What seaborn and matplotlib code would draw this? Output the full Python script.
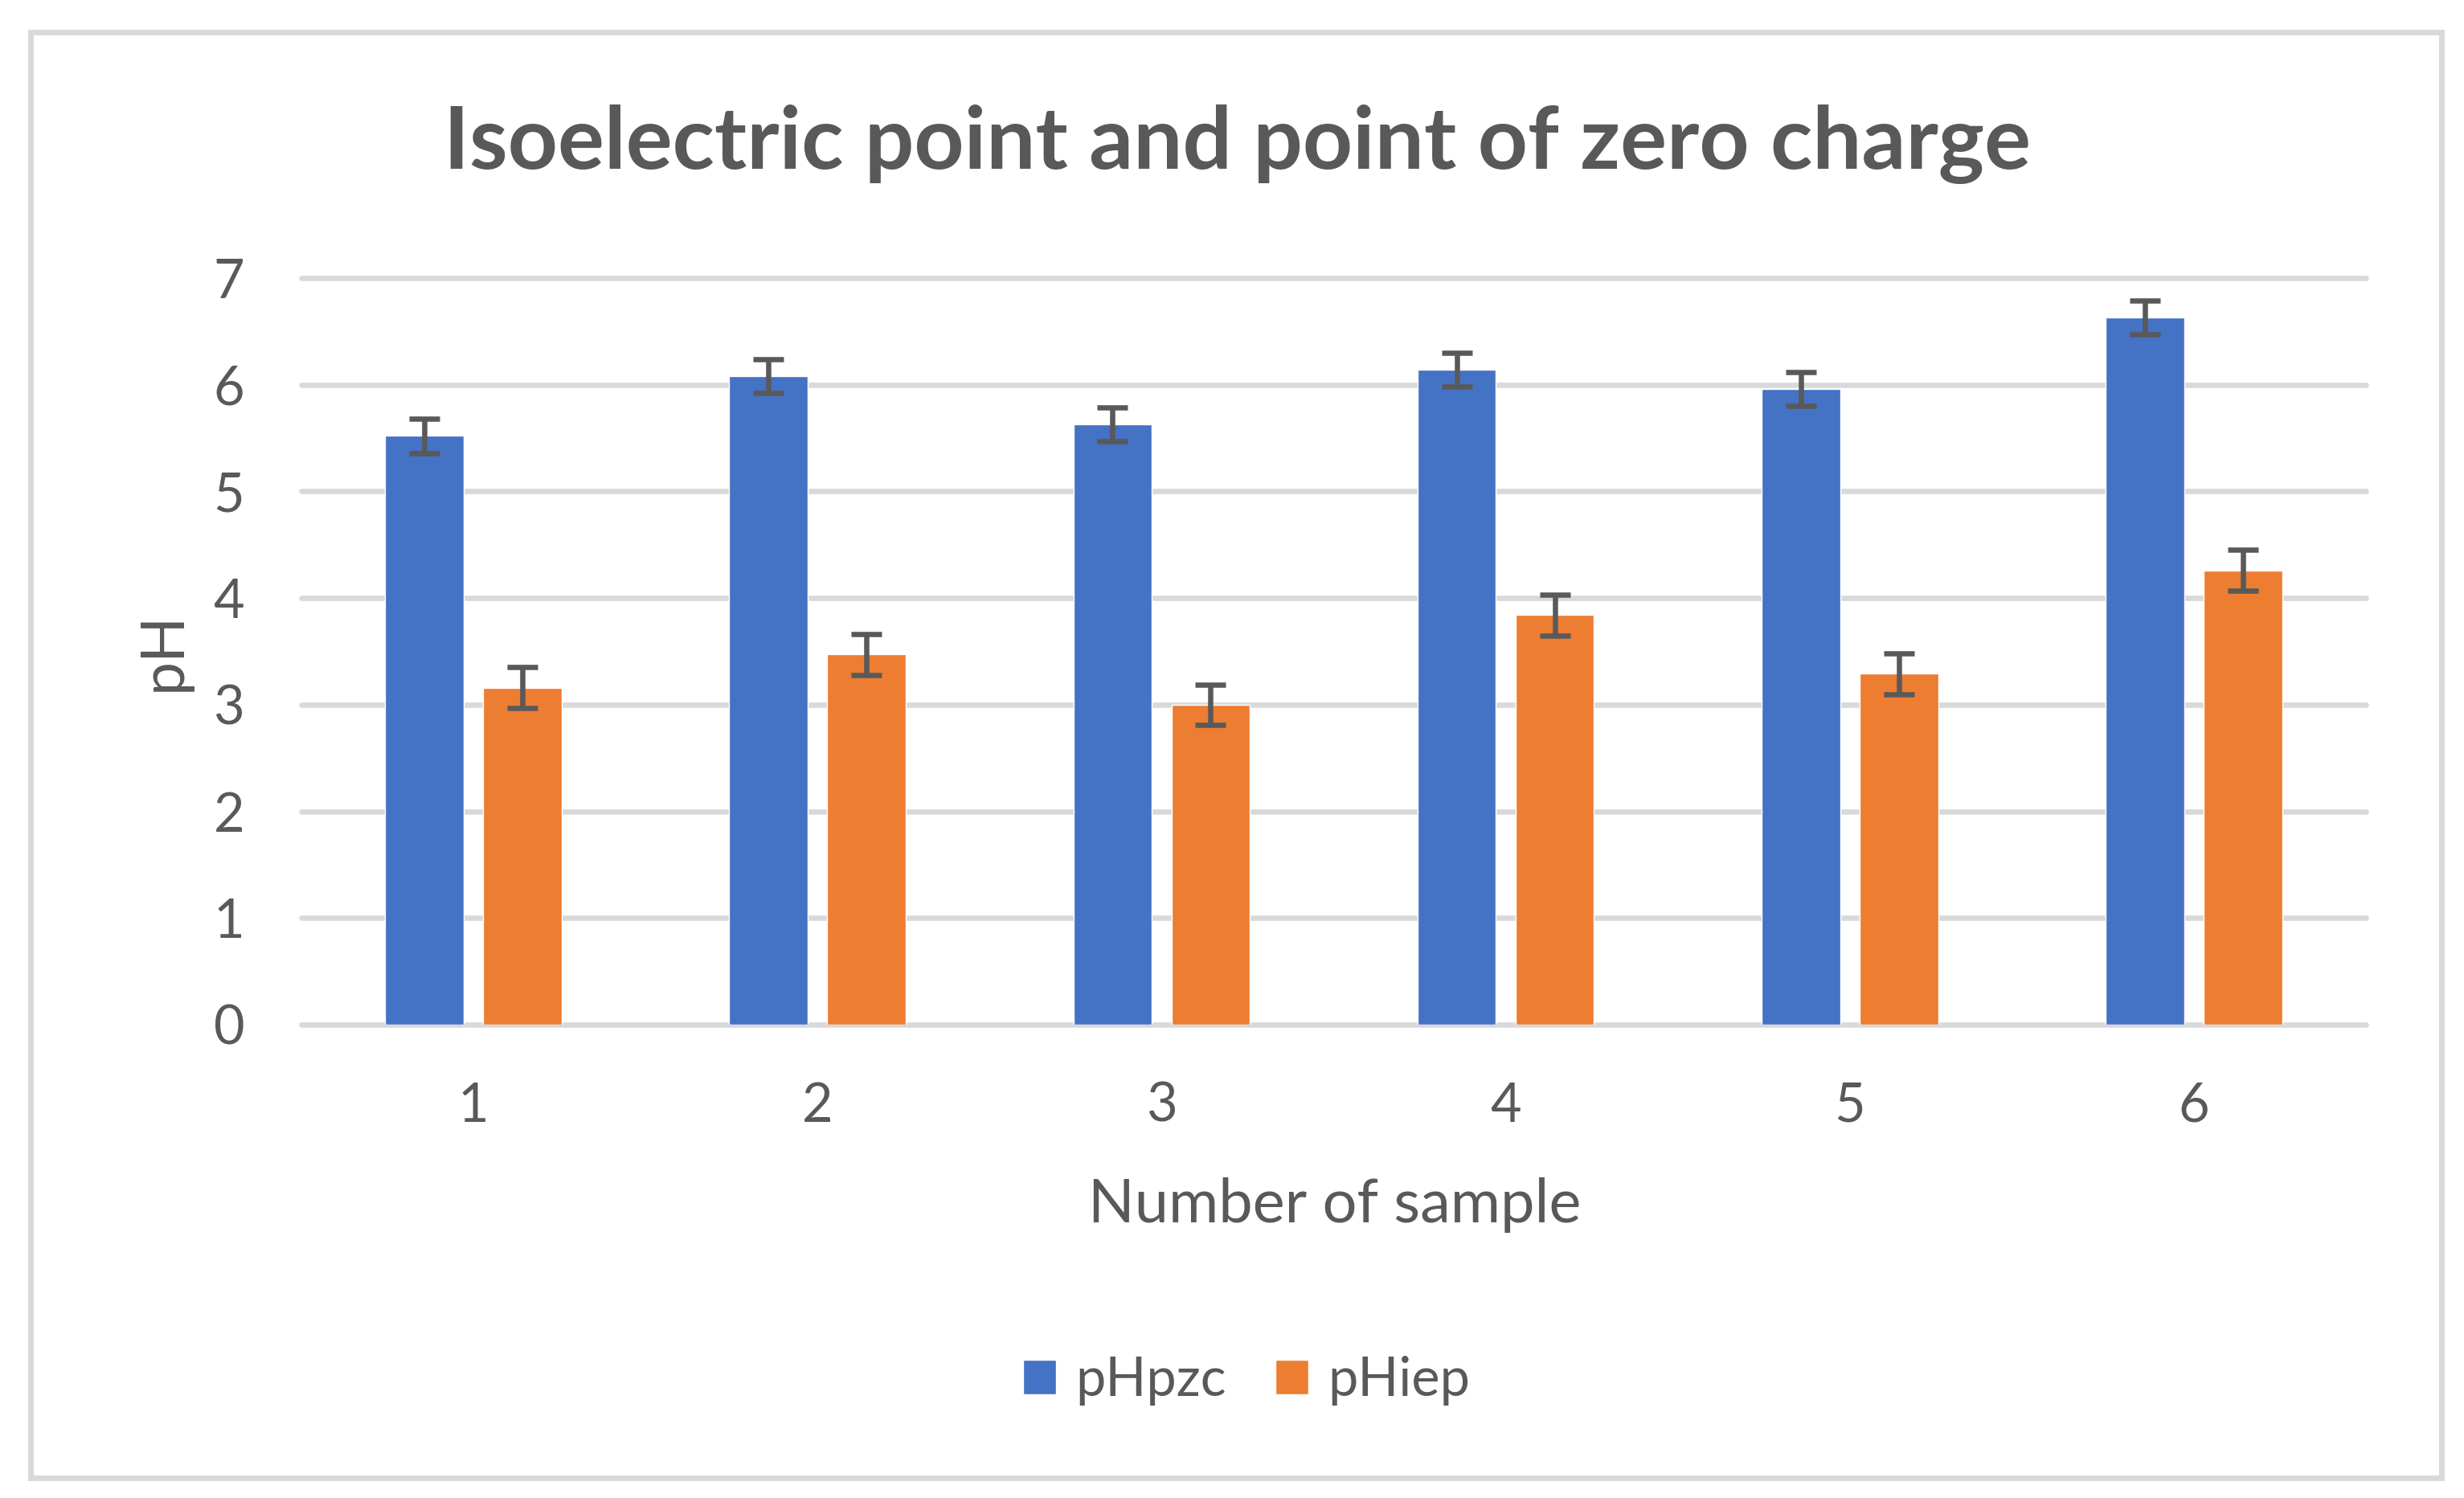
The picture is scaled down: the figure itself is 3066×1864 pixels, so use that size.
import matplotlib
matplotlib.use("Agg")
import matplotlib.pyplot as plt
import seaborn as sns
import pandas as pd
from matplotlib.patches import Rectangle

# ---- data ----
samples = ["1", "2", "3", "4", "5", "6"]
series_names = ["pHpzc", "pHiep"]
ph_pzc = [5.52, 6.08, 5.63, 6.14, 5.96, 6.63]
ph_iep = [3.16, 3.47, 3.00, 3.84, 3.29, 4.26]
err_pzc = [0.16, 0.16, 0.16, 0.16, 0.16, 0.16]
err_iep = [0.19, 0.19, 0.19, 0.19, 0.19, 0.19]
y_ticks = [0, 1, 2, 3, 4, 5, 6, 7]

title = "Isoelectric point and point of zero charge"
x_label = "Number of sample"
y_label = "pH"

df = pd.DataFrame({
    "sample": samples * 2,
    "pH": ph_pzc + ph_iep,
    "series": [series_names[0]] * len(samples) + [series_names[1]] * len(samples),
})

sns.set_style("white")
plt.rcParams["font.family"] = ["Lato", "DejaVu Sans"]
TXT = "#595959"
GRID = "#D9D9D9"
colors = ["#4472C4", "#ED7D31"]

W, H = 3066, 1864
fig = plt.figure(figsize=(W / 100, H / 100), dpi=100)
ax = fig.add_axes([375 / W, 1 - 1275 / H, (2944 - 375) / W, (1275 - 346) / H])

sns.barplot(data=df, x="sample", y="pH", hue="series", hue_order=series_names,
            order=samples, palette=colors, width=0.57, gap=0.2,
            errorbar=None, saturation=1, ax=ax, zorder=3)

for cont, errs in zip(ax.containers, [err_pzc, err_iep]):
    xs = [p.get_x() + p.get_width() / 2 for p in cont.patches]
    ys = [p.get_height() for p in cont.patches]
    ax.errorbar(xs, ys, yerr=errs, fmt="none", ecolor=TXT, elinewidth=4.7,
                capsize=13.7, capthick=4.7, zorder=4)

ax.set_ylim(0, 7)
ax.set_xlim(-0.5, 5.5)
ax.set_yticks(y_ticks)
ax.yaxis.grid(True, color=GRID, linewidth=4.8)
ax.xaxis.grid(False)
ax.set_axisbelow(True)
for gl in ax.get_ygridlines():
    gl.set_clip_on(False)
for s in ax.spines.values():
    s.set_visible(False)
ax.tick_params(axis="both", length=0, labelsize=48, labelcolor=TXT, pad=51)

ax.set_xlabel(x_label, fontsize=54.5, color=TXT)
ax.xaxis.set_label_coords(0.5006, -(1521 - 1275) / 929)
ax.xaxis.label.set_verticalalignment("baseline")
ax.set_ylabel(y_label, fontsize=54, color=TXT)
ax.yaxis.set_label_coords((203 - 375) / 2569, 0.5)
ax.yaxis.label.set_verticalalignment("center")
ax.yaxis.label.set_horizontalalignment("center")

handles, labels = ax.get_legend_handles_labels()
if ax.get_legend() is not None:
    ax.get_legend().remove()
fig.legend(handles, labels, loc="center", bbox_to_anchor=(1551 / W, 1 - 1718 / H),
           ncol=2, frameon=False, fontsize=48, labelcolor=TXT,
           handlelength=0.61, handleheight=0.63, handletextpad=0.36,
           columnspacing=0.93)

fig.text(1540 / W, 1 - 210 / H, title, ha="center", va="baseline",
         fontsize=78, fontweight="bold", color=TXT)

fig.patches.append(Rectangle((38 / W, 1 - 1838.5 / H), 3000 / W, 1799 / H,
                             transform=fig.transFigure, fill=False,
                             edgecolor=GRID, linewidth=5))

fig.savefig("out.png", dpi=100, facecolor="white")
